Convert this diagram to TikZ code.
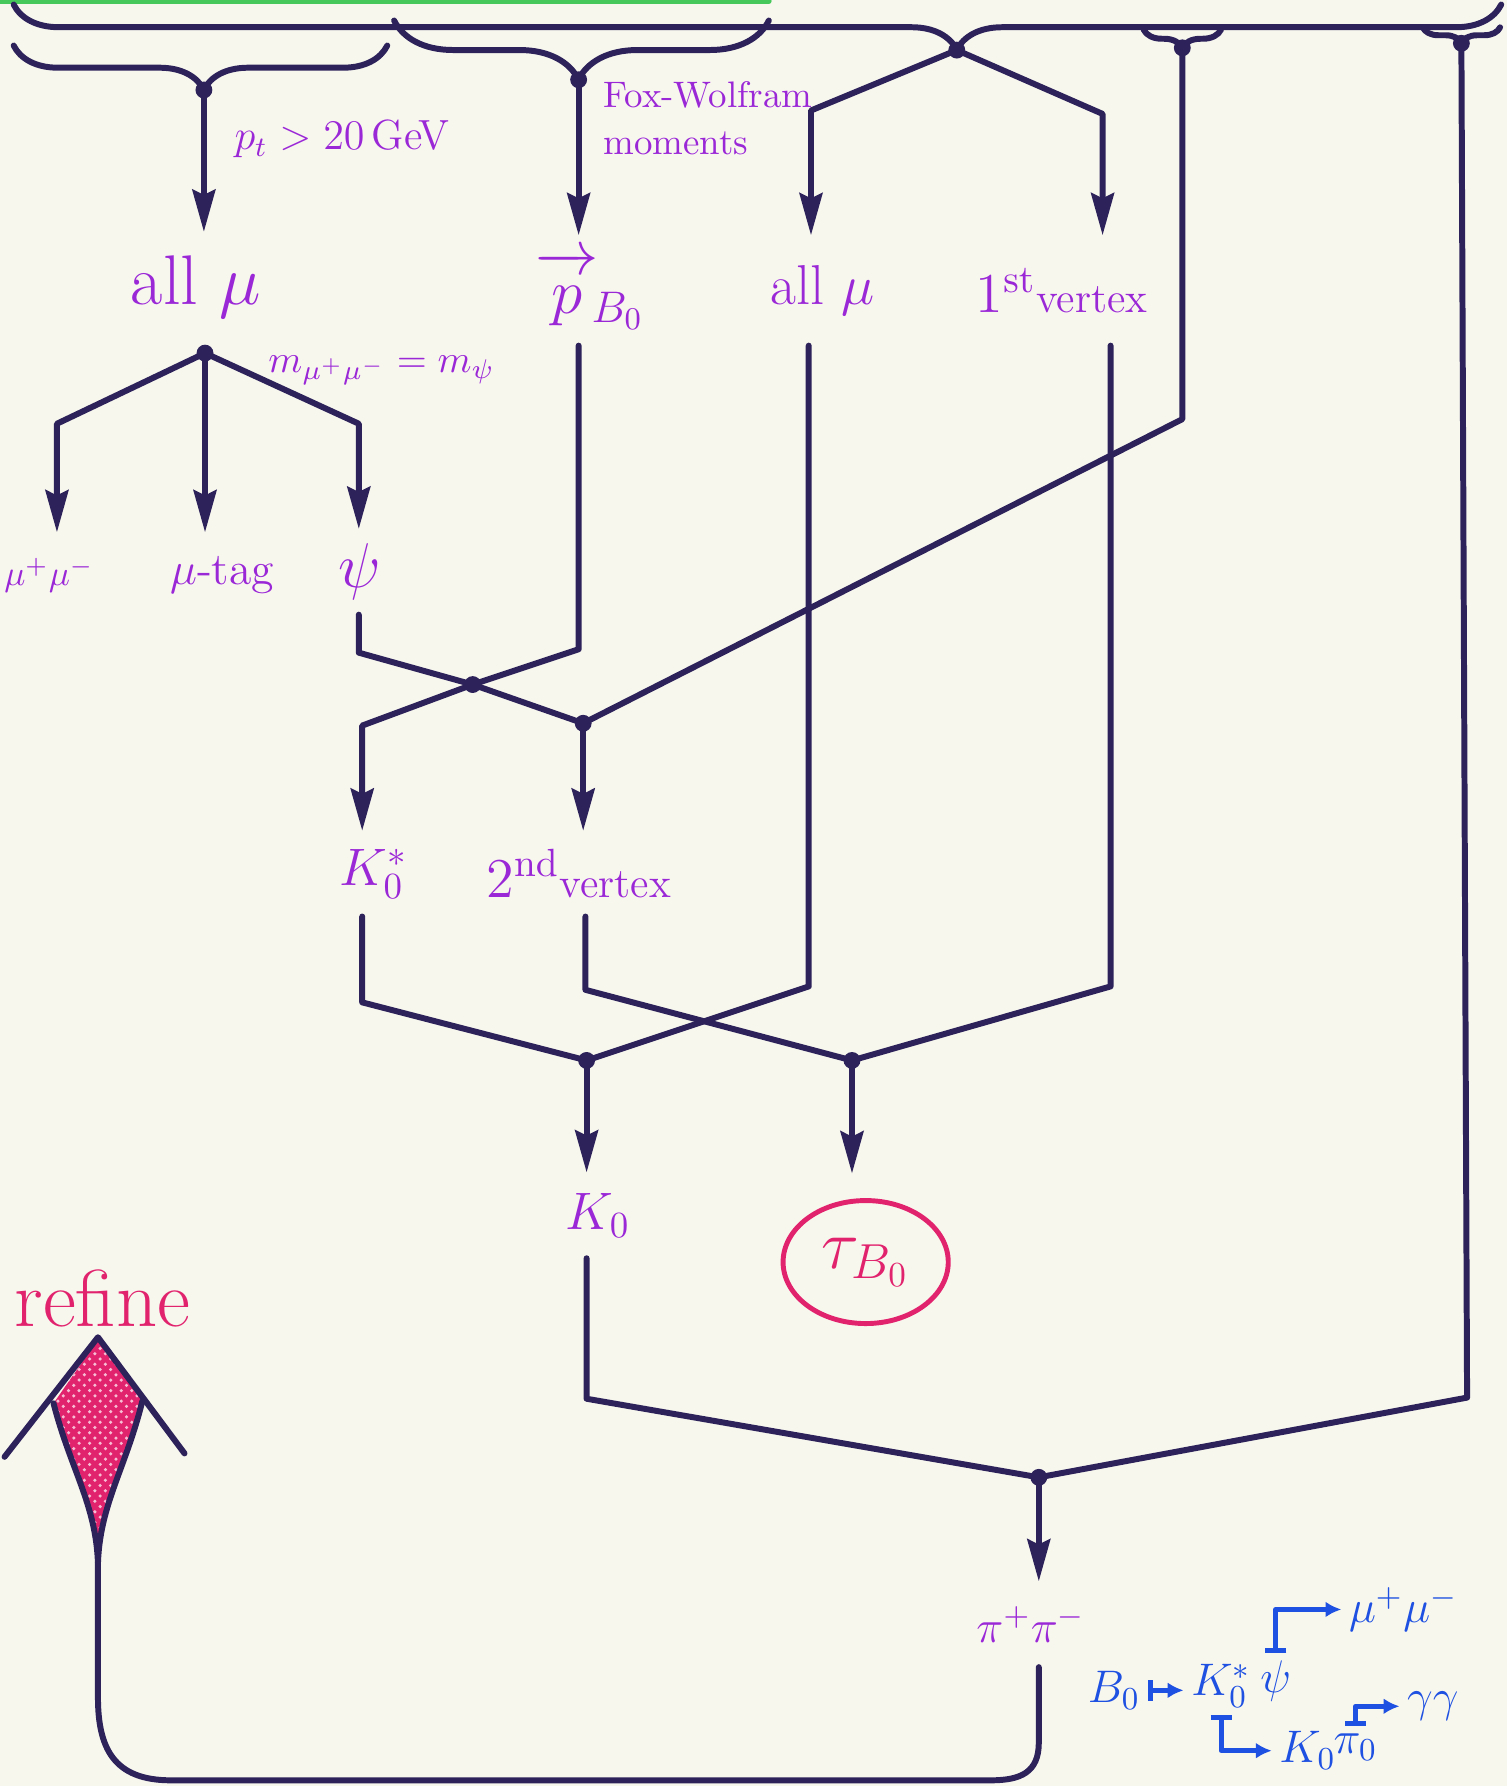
\RequirePackage{fix-cm}
\documentclass[tikz,border=0pt]{standalone}
\usepackage{amsmath,amssymb}
\usepackage{tikz}
\usetikzlibrary{arrows.meta,decorations.pathreplacing,shapes.geometric,patterns}
\usepackage{xcolor}
\definecolor{ink}{RGB}{45,35,90}
\definecolor{lab}{RGB}{155,40,215}
\definecolor{chainblue}{RGB}{30,80,225}
\definecolor{rose}{RGB}{225,35,110}
\definecolor{lime}{RGB}{70,200,90}
\definecolor{paper}{RGB}{248,247,238}

\begin{document}
\begin{tikzpicture}[x=0.1139mm,y=-0.1139mm,>={Stealth[length=12pt,width=6.5pt,inset=1.5pt]},line cap=round,line join=round,
  wire/.style={draw=ink,line width=1.7pt},
  flow/.style={wire,->},
  lbl/.style={text=lab,inner sep=3pt,minimum height=24pt,font=\fontsize{#1}{#1}\selectfont},
  brc/.style={wire,decorate,decoration={brace,mirror,amplitude=#1}},
  chain/.style={draw=chainblue,line width=1.4pt,{Bar[width=6pt]}-{Latex[length=4.5pt,width=4.5pt]}},
  chainlbl/.style={text=chainblue,inner sep=2pt,font=\fontsize{13}{13}\selectfont}]
\fill[paper] (0,0) rectangle (1323,1568);
\useasboundingbox (0,0) rectangle (1323,1568);
\draw[lime,line width=1.6pt] (0,1) -- (675,1);
\draw[brc=12.9pt,decoration={aspect=0.634}] (12,4) -- (1318,4);
\draw[brc=12.6pt,decoration={aspect=0.509}] (12,40) -- (340,40);
\draw[brc=16.8pt,decoration={aspect=0.492}] (346,18) -- (675,18);
\draw[brc=5.2pt] (1004,26) -- (1072,26);
\draw[brc=4.5pt] (1249,24) -- (1317,24);

\coordinate (jA) at (179,79);
\coordinate (jB) at (508,70);
\coordinate (jC) at (840,44);
\coordinate (jD) at (1038,42);
\coordinate (jE) at (1283,38);
\coordinate (cL) at (712,97);
\coordinate (cR) at (968,100);
\coordinate (dD) at (1038,368);
\coordinate (dE) at (1288,1227);
\coordinate (jM) at (180,310);
\coordinate (bL) at (50,372);
\coordinate (bR) at (315,372);
\coordinate (psL) at (315,573);
\coordinate (pbL) at (508,570);
\coordinate (jX) at (415,601);
\coordinate (kL) at (318,637);
\coordinate (jF) at (512,635);
\coordinate (ksL) at (318,880);
\coordinate (amL) at (710,866);
\coordinate (jK) at (515,931);
\coordinate (vbL) at (514,869);
\coordinate (vaL) at (975,866);
\coordinate (jT) at (748,931);
\coordinate (kzL) at (515,1228);
\coordinate (jP) at (912,1297);
\coordinate (stem) at (86,1372);

\node[lbl=20,minimum height=31pt] (allmuA) at (172,252) {all $\mu$};
\node[lbl=18,minimum height=31pt] (pB) at (518,255) {$\overrightarrow{\vphantom{t}p}_{\!B_0}$};
\node[lbl=16,minimum height=31pt] (allmuB) at (722,255) {all $\mu$};
\node[lbl=12,minimum height=31pt] (vtxA) at (932,255) {{\fontsize{16}{16}\selectfont$1^{\mathrm{st}}$}vertex};
\node[lbl=12,anchor=west] (cut) at (196,122) {$p_t > 20\,$GeV};
\node[lbl=10.5,anchor=west,align=left] (fw) at (520,104) {Fox-Wolfram\\[3pt]moments};
\node[lbl=11] (mcut) at (335,325) {$m_{\mu^+\mu^-}=m_\psi$};
\node[lbl=10] (mumu) at (43,505) {$\mu^+\mu^-$};
\node[lbl=13] (mutag) at (195,505) {$\mu$-tag};
\node[lbl=18] (psi) at (316,502) {$\psi$};
\node[lbl=15] (kstar) at (328,767) {$K_0^*$};
\node[lbl=12] (vtxB) at (508,767) {{\fontsize{16}{16}\selectfont$2^{\mathrm{nd}}$}vertex};
\node[lbl=15] (kz) at (525,1067) {$K_0$};
\node[ellipse,draw=rose,line width=1.4pt,text=rose,minimum width=47pt,minimum height=35pt,font=\fontsize{20}{20}\selectfont] (tau) at (760,1108) {$\tau_{B_0}$};
\node[lbl=13] (pipi) at (905,1426) {$\pi^+\pi^-$};
\node[lbl=23,text=rose] (refine) at (90,1140) {refine};

\draw[flow] (jA) -- (jA |- allmuA.north);
\draw[flow] (jB) -- (jB |- pB.north);
\draw[flow] (jC) -- (cL) -- (cL |- allmuB.north);
\draw[flow] (jC) -- (cR) -- (cR |- vtxA.north);
\draw[wire] (jD) -- (dD) -- (jF);
\draw[wire] (jE) -- (dE) -- (jP);
\draw[flow] (jM) -- (bL) -- (bL |- mumu.north);
\draw[flow] (jM) -- (jM |- mutag.north);
\draw[flow] (jM) -- (bR) -- (bR |- psi.north);
\draw[wire] (psi.south -| psL) -- (psL) -- (jX);
\draw[wire] (pB.south -| pbL) -- (pbL) -- (jX);
\draw[flow] (jX) -- (kL) -- (kL |- kstar.north);
\draw[wire] (jX) -- (jF);
\draw[flow] (jF) -- (jF |- vtxB.north);
\draw[wire] (kstar.south -| ksL) -- (ksL) -- (jK);
\draw[wire] (allmuB.south -| amL) -- (amL) -- (jK);
\draw[wire] (vtxB.south -| vbL) -- (vbL) -- (jT);
\draw[wire] (vtxA.south -| vaL) -- (vaL) -- (jT);
\draw[flow] (jK) -- (jK |- kz.north);
\draw[flow,shorten >=7pt] (jT) -- (jT |- tau.north);
\draw[wire] (kz.south -| kzL) -- (kzL) -- (jP);
\draw[flow] (jP) -- (jP |- pipi.north);
\foreach \j in {jA,jB,jC,jD,jE,jM,jX,jF,jK,jT,jP}
  \fill[ink] (\j) circle (2.4pt);

\fill[rose] (86,1176) -- (47,1232) .. controls (62,1290) and (84,1320) .. (stem) .. controls (88,1320) and (110,1290) .. (125,1230) -- cycle;
\fill[pattern=crosshatch dots,pattern color=white!70!rose] (86,1176) -- (47,1232) .. controls (62,1290) and (84,1320) .. (stem) .. controls (88,1320) and (110,1290) .. (125,1230) -- cycle;
\draw[wire] (47,1232) .. controls (62,1290) and (84,1320) .. (stem) .. controls (88,1320) and (110,1290) .. (125,1230);
\draw[wire] (4,1279) -- (86,1174) -- (162,1276);
\draw[wire] (jP |- pipi.south) -- (912,1530) .. controls (912,1556) and (896,1563) .. (870,1563) -- (150,1563) .. controls (100,1563) and (86,1535) .. (86,1490) -- (stem);

\node[chainlbl] (bz) at (978,1484) {$B_0$};
\node[chainlbl] (ks) at (1072,1480) {$K_0^*$};
\node[chainlbl] (psB) at (1120,1476) {$\psi$};
\node[chainlbl] (mm) at (1232,1413) {$\mu^+\mu^-$};
\node[chainlbl] (kzB) at (1148,1537) {$K_0$};
\node[chainlbl] (pzB) at (1190,1534) {$\pi_0$};
\node[chainlbl] (gg) at (1258,1498) {$\gamma\gamma$};
\draw[chain] (bz.east) -- (ks.west |- bz.east);
\draw[chain] (psB.north) |- (mm);
\draw[chain] (ks.south) |- (kzB);
\draw[chain] (pzB.north) |- (gg);
\end{tikzpicture}
\end{document}
